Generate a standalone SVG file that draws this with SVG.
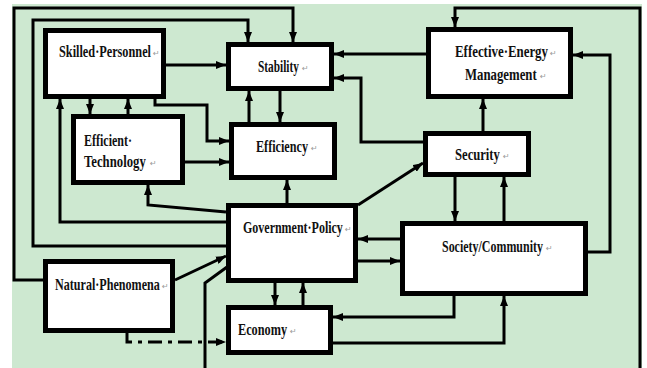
<svg xmlns="http://www.w3.org/2000/svg" width="647" height="368" viewBox="0 0 647 368">
<style>
.box{fill:#fff;stroke:#000;stroke-width:5}
.c{fill:none;stroke:#000;stroke-width:3;stroke-linejoin:miter}
.a{marker-end:url(#ah)}
.dd{stroke-dasharray:14 6 4 6}
.t{font-family:"Liberation Serif","Times New Roman",serif;font-weight:bold;font-size:16px;fill:#111}
.m{font-family:"DejaVu Sans",sans-serif;font-size:8px;fill:#999}
</style>
<defs>
<marker id="ah" markerUnits="userSpaceOnUse" markerWidth="10" markerHeight="8" refX="10" refY="4" orient="auto">
<path d="M0,0 L10,4 L0,8 z" fill="#000"/>
</marker>
</defs>
<rect x="0" y="0" width="647" height="368" fill="#fff"/>
<rect x="12" y="4" width="630" height="364" fill="#cde8d0"/>
<g id="connectors">
<path class="c a" d="M166,65 H226"/>
<path class="c a" d="M155,99 V105 H207 V141 H229"/>
<path class="c a" d="M90,99 V114"/>
<path class="c a" d="M128,114 V99"/>
<path class="c a" d="M185,162 H229"/>
<path class="c a" d="M280,91 V122"/>
<path class="c a" d="M249,122 V91"/>
<path class="c a" d="M287,203 V180"/>
<path class="c a" d="M358,205 L423,163"/>
<path class="c a" d="M423,142 H361 V78 H334"/>
<path class="c a" d="M426,54 H334"/>
<path class="c a" d="M483,131 V99"/>
<path class="c a" d="M455,177 V221"/>
<path class="c a" d="M504,221 V177"/>
<path class="c a" d="M588,252 H610 V55 H573"/>
<path class="c a" d="M640,368 V8 H455 V27"/>
<path class="c a" d="M400,239 H358"/>
<path class="c a" d="M358,261 H400"/>
<path class="c a" d="M275,283 V305"/>
<path class="c a" d="M303,305 V283"/>
<path class="c a" d="M454,296 V317 H333"/>
<path class="c a" d="M333,343 H504 V296"/>
<path class="c a" d="M175,280 L226,256"/>
<path class="c" d="M227,267 L205,283 V368"/>
<path class="c a dd" d="M127,333 V342 H226"/>
<path class="c a" d="M226,212 L148,205 V185"/>
<path class="c a" d="M226,222 H60 V99"/>
<path class="c a" d="M226,246 H33 V20 H248 V42"/>
<path class="c a" d="M43,280 H14 V8 H293 V42"/>
</g>
<g id="skilled-personnel">
<rect class="box" x="45.5" y="30.5" width="118" height="66"/>
<text class="t" transform="translate(59,57) scale(0.767,1)">Skilled·Personnel</text>
<text class="m" x="153" y="56">↵</text>
</g>
<g id="efficient-technology">
<rect class="box" x="73.5" y="116.5" width="109" height="66"/>
<text class="t" transform="translate(84,146) scale(0.75,1)">Efficient·</text>
<text class="t" transform="translate(84,167) scale(0.796,1)">Technology</text>
<text class="m" x="150" y="166">↵</text>
</g>
<g id="stability">
<rect class="box" x="228.5" y="44.5" width="103" height="44"/>
<text class="t" transform="translate(258,72) scale(0.709,1)">Stability</text>
<text class="m" x="302" y="71">↵</text>
</g>
<g id="efficiency">
<rect class="box" x="231.5" y="124.5" width="103" height="53"/>
<text class="t" transform="translate(256,152) scale(0.76,1)">Efficiency</text>
<text class="m" x="311" y="151">↵</text>
</g>
<g id="effective-energy-management">
<rect class="box" x="428.5" y="29.5" width="142" height="67"/>
<text class="t" transform="translate(455,57) scale(0.806,1)">Effective·Energy</text>
<text class="m" x="550" y="56">↵</text>
<text class="t" transform="translate(465,80) scale(0.8,1)">Management</text>
<text class="m" x="540" y="79">↵</text>
</g>
<g id="security">
<rect class="box" x="425.5" y="133.5" width="103" height="41"/>
<text class="t" transform="translate(455,160) scale(0.79,1)">Security</text>
<text class="m" x="503" y="159">↵</text>
</g>
<g id="government-policy">
<rect class="box" x="228.5" y="205.5" width="127" height="75"/>
<text class="t" transform="translate(243,233) scale(0.75,1)">Government·Policy</text>
<text class="m" x="345" y="232">↵</text>
</g>
<g id="society-community">
<rect class="box" x="402.5" y="223.5" width="183" height="70"/>
<text class="t" transform="translate(442,252) scale(0.748,1)">Society/Community</text>
<text class="m" x="546" y="251">↵</text>
</g>
<g id="economy">
<rect class="box" x="228.5" y="307.5" width="102" height="45"/>
<text class="t" transform="translate(238,335) scale(0.766,1)">Economy</text>
<text class="m" x="290" y="334">↵</text>
</g>
<g id="natural-phenomena">
<rect class="box" x="45.5" y="261.5" width="127" height="69"/>
<text class="t" transform="translate(55,290) scale(0.757,1)">Natural·Phenomena</text>
<text class="m" x="162" y="289">↵</text>
</g>
</svg>
